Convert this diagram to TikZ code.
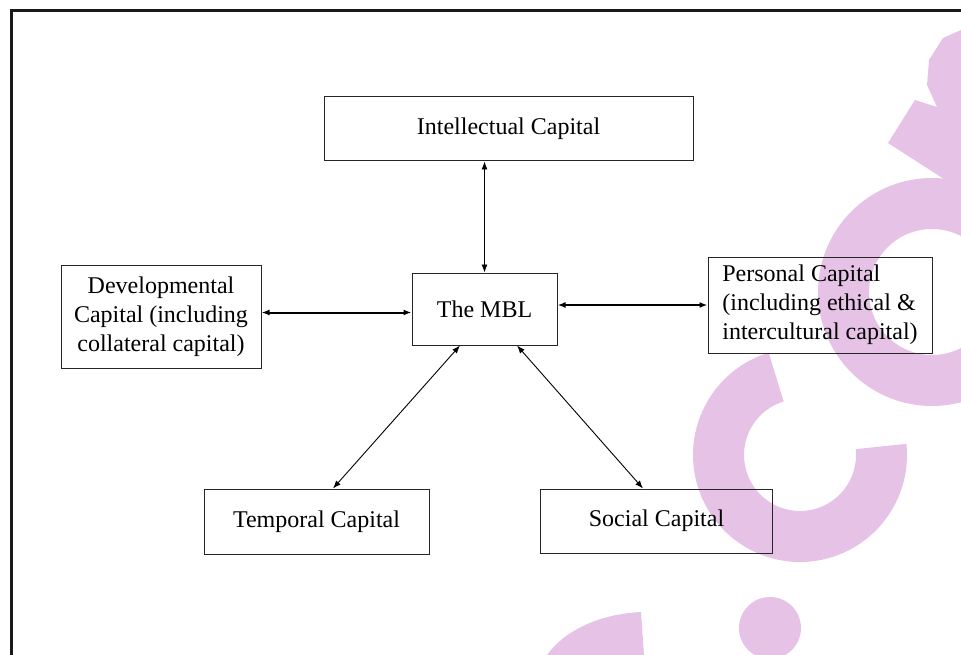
\documentclass[tikz,border=0pt]{standalone}
\usepackage{fontspec}
\setmainfont{Liberation Serif}
\usetikzlibrary{arrows.meta}

\definecolor{wmpink}{RGB}{230,195,230}

\begin{document}
\begin{tikzpicture}[
  x=1pt, y=-1pt,
  box/.style={draw=black!85, line width=1pt, inner sep=0pt,
    font=\fontsize{24}{29}\selectfont},
  biarrow/.style={<->, >={Latex[length=8pt,width=6pt]}, line width=0.9pt},
  boldarrow/.style={biarrow, line width=2pt},
  wm/.style={fill=wmpink, draw=none}
]
\useasboundingbox (0,0) rectangle (961,655);

% pink logo shapes in the background
\begin{scope}
  \clip (0,0) rectangle (961,655);
  % top stroke
  \path[wm] (961,30) -- (943,38) -- (929,60) -- (927,85) -- (937,107)
    -- (915,100) -- (888,143) -- (961,190) -- cycle;
  % ring
  \path[wm, even odd rule] (932,292) circle[radius=114] (932,292) circle[radius=63];
  % open arc
  \path[wm] ([shift={(800,455)}]-107:107) arc[start angle=-107, end angle=-366, radius=107]
    -- ([shift={(800,455)}]-366:56) arc[start angle=-366, end angle=-107, radius=56] -- cycle;
  % lower pieces
  \path[wm] (547,655) .. controls (565,630) and (600,614) .. (641,612) -- (644,655) -- cycle;
  \path[wm] (770,628) circle[radius=31];
\end{scope}

% frame edges
\draw[line width=2.8pt, black!90] (10,10.5) -- (961,10.5);
\draw[line width=2.8pt, black!90] (11.3,9) -- (11.3,655);

% boxes
\node[box, minimum width=369pt, minimum height=64pt] (intel) at (508.5,129) {Intellectual Capital};
\node[box, minimum width=145pt, minimum height=72pt] (mbl) at (484.5,309) {The MBL};
\node[box, minimum width=200pt, minimum height=103pt, align=center] (dev) at (161,316.5)
  {Developmental\\Capital (including\\collateral capital)};
\node[box, minimum width=224pt, minimum height=96pt, align=left] (pers) at (820,305)
  {Personal Capital\\(including ethical \&\\intercultural capital)};
\node[box, minimum width=225pt, minimum height=65pt] (temp) at (316.5,521.5) {Temporal Capital};
\node[box, minimum width=232pt, minimum height=64pt] (soc) at (656.5,521) {Social Capital};

% connectors
\draw[biarrow] (mbl.north |- intel.south) -- (mbl.north);
\draw[boldarrow] ([yshift=-3.5pt]dev.east |- mbl.west) -- ([yshift=-3.5pt]mbl.west);
\draw[boldarrow] (mbl.east |- pers.west) -- (pers.west);
\draw[biarrow] ([xshift=-24.5pt]mbl.south) -- ([xshift=16.5pt]temp.north);
\draw[biarrow] ([xshift=32.5pt]mbl.south) -- ([xshift=-13.5pt]soc.north);
\end{tikzpicture}
\end{document}
